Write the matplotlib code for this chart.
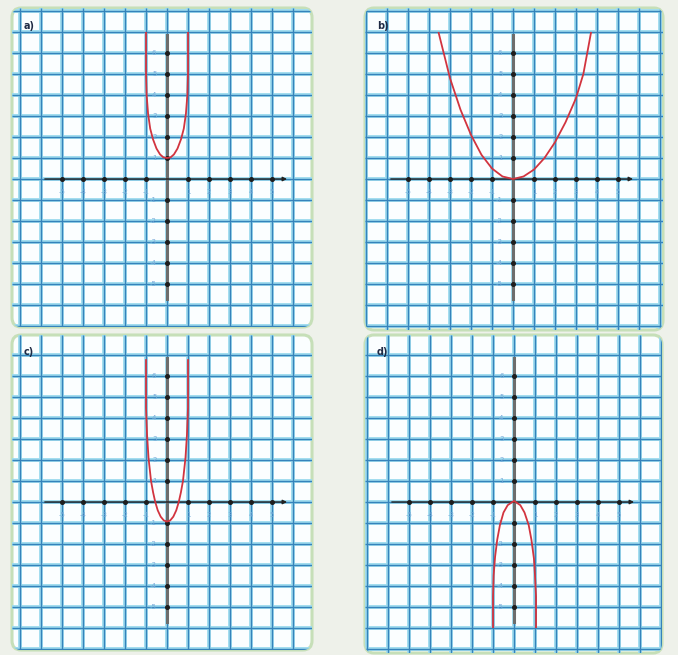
import matplotlib
matplotlib.use("Agg")
import matplotlib.pyplot as plt
import numpy as np
from matplotlib.patches import FancyBboxPatch

# curve points, in grid units
a_x = [-1.0, -1.0, -0.97, -0.9, -0.8, -0.67, -0.5, -0.33, -0.17, 0.0,
       0.17, 0.33, 0.5, 0.67, 0.8, 0.9, 0.97, 1.0, 1.0]
a_y = [7.0, 5.0, 4.0, 3.1, 2.4, 1.9, 1.45, 1.17, 1.03, 1.0,
       1.03, 1.17, 1.45, 1.9, 2.4, 3.1, 4.0, 5.0, 7.0]

b_x = [-3.55, -3.25, -3.0, -2.5, -2.0, -1.5, -1.0, -0.5, 0.0,
       0.5, 1.0, 1.5, 2.0, 2.5, 3.0, 3.35, 3.72]
b_y = [7.0, 5.8, 4.8, 3.3, 2.1, 1.15, 0.5, 0.12, 0.0,
       0.12, 0.45, 1.0, 1.75, 2.7, 3.85, 5.0, 7.0]

c_x = [-1.0, -1.0, -0.95, -0.88, -0.76, -0.66, -0.56, -0.44, -0.3, -0.15, 0.0,
       0.15, 0.3, 0.44, 0.56, 0.66, 0.76, 0.88, 0.95, 1.0, 1.0]
c_y = [6.8, 4.5, 3.2, 2.1, 1.0, 0.45, 0.0, -0.4, -0.7, -0.88, -0.93,
       -0.88, -0.7, -0.4, 0.0, 0.45, 1.0, 2.1, 3.2, 4.5, 6.8]

d_x = [-1.0, -1.0, -0.97, -0.9, -0.8, -0.67, -0.5, -0.3, 0.0,
       0.3, 0.5, 0.7, 0.83, 0.95, 1.0, 1.05, 1.05]
d_y = [-6.0, -4.5, -3.5, -2.6, -1.8, -1.1, -0.5, -0.15, 0.05,
       -0.15, -0.5, -1.1, -1.8, -2.7, -3.5, -4.5, -6.0]

x_ticks = [-5, -4, -3, -2, -1, 1, 2, 3, 4, 5]
y_ticks = [-5, -4, -3, -2, -1, 1, 2, 3, 4, 5, 6]
panel_names = ["a)", "b)", "c)", "d)"]

W, H = 678, 655
BG = "#eef1ea"
EDGE = "#c6dfb8"
GRID_LIGHT = "#9fdcef"
GRID_DARK = "#3583bb"
RED = "#d2343f"
LABEL = "#78aad8"

# panel boxes in pixels (left, top, right, bottom) and origin pixel
panels = [
    ((12, 8, 312, 327), (167, 179), a_x, a_y),
    ((365, 8, 663, 330), (513, 179), b_x, b_y),
    ((12, 335, 312, 650), (167, 502), c_x, c_y),
    ((365, 335, 662, 653), (514, 502), d_x, d_y),
]
G = 21.0

fig = plt.figure(figsize=(W / 100, H / 100), dpi=100)
fig.patch.set_facecolor(BG)

for (box, org, cx, cy), name in zip(panels, panel_names):
    l, t, r, b = box
    ax = fig.add_axes([l / W, 1 - b / H, (r - l) / W, (b - t) / H])
    ax.set_xlim((l - org[0]) / G, (r - org[0]) / G)
    ax.set_ylim((org[1] - b) / G, (org[1] - t) / G)
    ax.axis("off")

    card = FancyBboxPatch((0, 0), 1, 1, boxstyle="round,pad=0,rounding_size=0.03",
                          transform=ax.transAxes, facecolor="#fbfeff",
                          edgecolor=EDGE, lw=2.2, zorder=0, clip_on=False)
    ax.add_patch(card)

    x0, x1 = ax.get_xlim()
    y0, y1 = ax.get_ylim()
    gx = np.arange(np.ceil(x0), x1 + 0.01)
    gy = np.arange(np.ceil(y0), y1 + 0.01)
    for lw, col in [(2.8, GRID_LIGHT), (1.0, GRID_DARK)]:
        v = ax.vlines(gx, y0, y1, color=col, lw=lw, zorder=1)
        h = ax.hlines(gy, x0, x1, color=col, lw=lw, zorder=1)
        v.set_clip_path(card)
        h.set_clip_path(card)

    # axes
    ax.plot([0, 0], [-5.7, 6.85], color="#6d6d6d", lw=2.2, zorder=3)
    ax.annotate("", xy=(5.85, 0), xytext=(-5.95, 0),
                arrowprops=dict(arrowstyle="-|>", color="#222222", lw=1.0,
                                mutation_scale=6), zorder=3)
    ax.plot(x_ticks, np.zeros(len(x_ticks)), "o", color="#1e1e1e", ms=2.6, zorder=4)
    ax.plot(np.zeros(len(y_ticks)), y_ticks, "o", color="#1e1e1e", ms=2.6, zorder=4)
    for xv in x_ticks:
        ax.text(xv, -0.62, str(xv), color=LABEL, fontsize=5,
                ha="center", va="center", zorder=2)
    for yv in y_ticks:
        ax.text(-0.5, yv, str(yv), color=LABEL, fontsize=5,
                ha="right", va="center", zorder=2)

    ax.plot(cx, cy, color=RED, lw=1.3, zorder=5, solid_capstyle="butt")

    ax.text(0.04, 0.945, name, transform=ax.transAxes, fontsize=7,
            fontweight="bold", color="#1f2a44", ha="left", va="center", zorder=6)

fig.savefig("out.png", dpi=100, facecolor=fig.get_facecolor())
